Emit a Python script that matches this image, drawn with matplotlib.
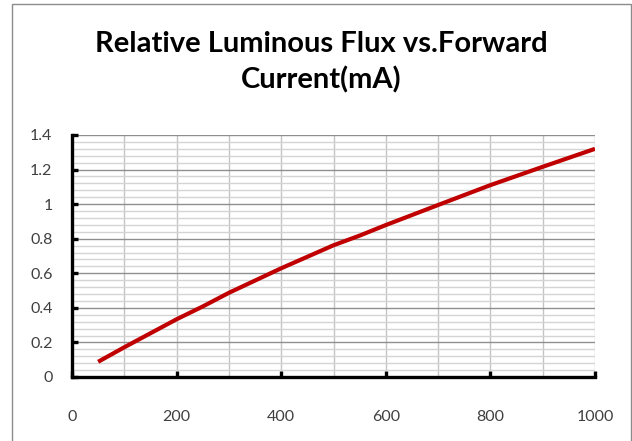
import matplotlib
matplotlib.use("Agg")
import matplotlib.pyplot as plt
from matplotlib.ticker import MultipleLocator, FuncFormatter
from matplotlib.patches import Rectangle

# Data
current_ma = [50, 100, 200, 250, 300, 400, 500, 550, 600, 700, 800, 850, 900, 1000]
rel_flux = [0.088, 0.172, 0.334, 0.408, 0.487, 0.629, 0.762, 0.818, 0.879, 0.995, 1.11, 1.163, 1.216, 1.32]
title_text = "Relative Luminous Flux vs.Forward\nCurrent(mA)"

plt.rcParams['font.family'] = ['Lato', 'DejaVu Sans']

fig = plt.figure(figsize=(6.32, 4.41), dpi=100)
fig.patch.set_facecolor('white')
fig.patches.append(Rectangle((12/632, -0.05), (631-12)/632, 1 - 4/441 + 0.05,
                             transform=fig.transFigure, fill=False,
                             edgecolor='#8c8c8c', linewidth=1.0))

ax = fig.add_axes([72/632, 1 - 377/441, (595-72)/632, (377-135)/441])
ax.set_xlim(0, 1000)
ax.set_ylim(0, 1.4)

ax.xaxis.set_major_locator(MultipleLocator(200))
ax.xaxis.set_minor_locator(MultipleLocator(100))
ax.yaxis.set_major_locator(MultipleLocator(0.2))
ax.yaxis.set_minor_locator(MultipleLocator(0.04))

ax.grid(which='minor', axis='y', color='#d4d4d4', linewidth=1.0)
ax.grid(which='major', axis='y', color='#8f8f8f', linewidth=1.0)
ax.grid(which='both', axis='x', color='#c4c4c4', linewidth=1.0)
ax.set_axisbelow(True)

ax.plot(current_ma, rel_flux, color='#C00000', linewidth=3.0, solid_capstyle='butt', zorder=3)

for s in ['top', 'right']:
    ax.spines[s].set_visible(False)
for s in ['left', 'bottom']:
    ax.spines[s].set_color('black')
    ax.spines[s].set_linewidth(2.4)

def fmt(v, pos):
    s = f"{v:.1f}"
    if s.endswith('.0'):
        s = s[:-2]
    return s

ax.yaxis.set_major_formatter(FuncFormatter(fmt))
ax.tick_params(which='major', direction='in', length=4, width=2.4, color='black',
               labelsize=11.5, labelcolor='#404040')
ax.tick_params(which='minor', length=0)
ax.tick_params(axis='x', pad=24)
ax.tick_params(axis='y', pad=14)

fig.text(321/632, 1 - 62.5/441, title_text, ha='center', va='center',
         fontsize=21, fontweight='bold', color='black', linespacing=1.42)

fig.savefig('out.png', dpi=100)
